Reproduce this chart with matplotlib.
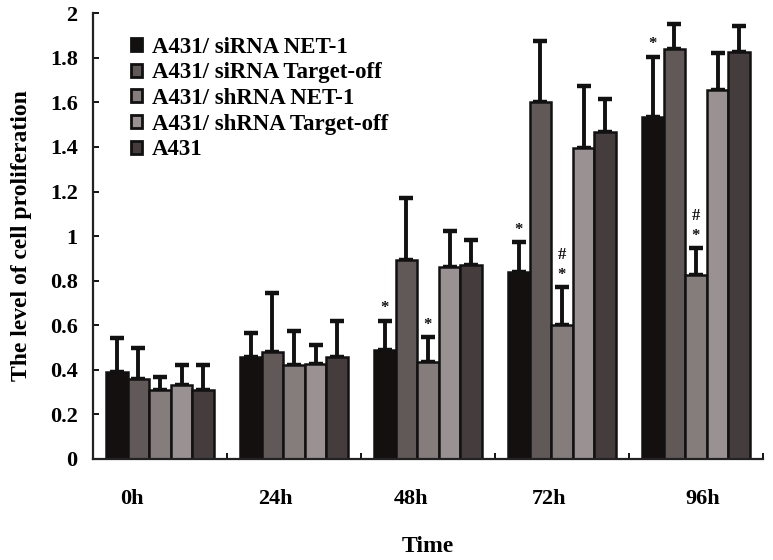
import matplotlib
matplotlib.use("Agg")
import matplotlib.pyplot as plt
import numpy as np
from matplotlib.patches import Patch

# data
times = ['0h', '24h', '48h', '72h', '96h']
groups = ['A431/ siRNA NET-1', 'A431/ siRNA Target-off', 'A431/ shRNA NET-1',
          'A431/ shRNA Target-off', 'A431']
means = [
    [0.39, 0.458, 0.488, 0.84, 1.536],
    [0.36, 0.48, 0.892, 1.604, 1.839],
    [0.308, 0.42, 0.435, 0.60, 0.825],
    [0.33, 0.425, 0.859, 1.397, 1.656],
    [0.308, 0.458, 0.870, 1.469, 1.828],
]
err_top = [
    [0.54, 0.563, 0.62, 0.974, 1.806],
    [0.495, 0.745, 1.169, 1.878, 1.953],
    [0.368, 0.574, 0.547, 0.772, 0.945],
    [0.42, 0.51, 1.024, 1.674, 1.821],
    [0.42, 0.62, 0.982, 1.614, 1.944],
]
# significance marks: (time index, group index, text)
marks = [(2, 0, '*'), (2, 2, '*'), (3, 0, '*'), (3, 2, '*'), (3, 2, '#'),
         (4, 0, '*'), (4, 2, '*'), (4, 2, '#')]

colors = ['#141010', '#615858', '#857c7c', '#9a9292', '#453d3d']
label_pos = [-0.21, 0.86, 1.87, 2.90, 4.05]

plt.rcParams['font.family'] = ['Liberation Serif', 'DejaVu Serif']
plt.rcParams['font.weight'] = 'bold'

fig = plt.figure(figsize=(7.73, 5.6), dpi=100)
ax = fig.add_axes([0.1203, 0.181, 0.8667, 0.795])

x = np.arange(len(times))
w = 0.161
for i in range(len(groups)):
    xs = x + (i - 2) * w
    m = np.array(means[i])
    e = np.array(err_top[i]) - m
    ax.bar(xs, m, width=w, color=colors[i], edgecolor='#111111', linewidth=1.8,
           zorder=2)
    ax.errorbar(xs, m, yerr=[np.zeros_like(e), e], fmt='none', ecolor='#111111',
                elinewidth=2.8, capsize=5, capthick=3.2, zorder=1)

# significance symbols
for t, g, s in marks:
    top = err_top[g][t]
    off = 0.055 if s == '*' else 0.145
    ax.text(t + (g - 2) * w, top + off, s, ha='center', va='center',
            fontsize=12, fontweight='bold', color='#111111')

ax.set_xlim(-0.5, 4.5)
ax.set_ylim(0, 2)
ax.set_yticks(np.arange(0, 2.01, 0.2))
ax.yaxis.set_major_formatter(plt.FuncFormatter(lambda v, p: f'{v:g}'))
ax.tick_params(axis='y', direction='in', length=4, width=1.3, labelsize=16,
               pad=11)
ax.set_xticks(label_pos, times)
ax.set_xticks(np.arange(0.5, 5, 1), minor=True)
ax.tick_params(axis='x', which='major', length=0, labelsize=16, pad=22)
ax.tick_params(axis='x', which='minor', direction='in', length=4, width=1.3)

for s in ['top', 'right']:
    ax.spines[s].set_visible(False)
for s in ['left', 'bottom']:
    ax.spines[s].set_linewidth(1.6)
    ax.spines[s].set_color('#222222')

ax.set_ylabel('The level of cell proliferation', fontsize=17, fontweight='bold',
              labelpad=13)
ax.set_xlabel('Time', fontsize=17, fontweight='bold', labelpad=19)

handles = [Patch(facecolor=c, edgecolor='#111111', linewidth=2) for c in colors]
ax.legend(handles, groups, loc='upper left', bbox_to_anchor=(0.043, 0.968),
          frameon=False, fontsize=16.5, handlelength=0.5, handleheight=0.5,
          handletextpad=0.4, labelspacing=0.2, borderaxespad=0)

fig.savefig('out.png', dpi=100)
